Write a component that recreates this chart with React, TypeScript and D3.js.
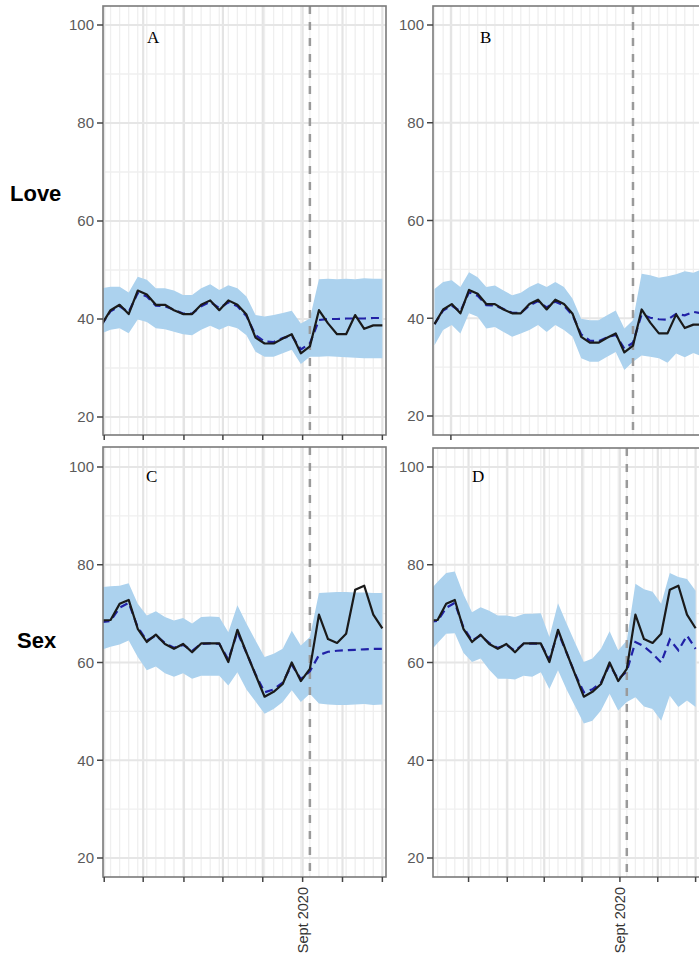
import React from "react";
import * as d3 from "d3";

// observed series (same for both models of a row)
const loveObserved = [38.8, 41.8, 42.9, 41.0, 45.8, 45.0, 42.9, 42.9, 41.8, 41.0, 41.0, 42.9, 43.8, 41.8, 43.8, 42.9, 40.9, 36.2, 35.0, 35.0, 36.0, 36.9, 33.0, 34.4, 41.8, 39.1, 36.9, 36.9, 40.8, 38.0, 38.7, 38.7];
const sexObserved = [68.6, 68.7, 72.0, 72.8, 66.9, 64.2, 65.7, 63.8, 62.8, 63.8, 62.1, 63.9, 63.9, 63.9, 60.1, 66.7, 62.0, 57.5, 53.0, 54.0, 55.6, 60.0, 56.2, 58.7, 69.8, 64.8, 64.0, 65.9, 74.9, 75.7, 69.8, 67.0];

// fitted / counterfactual (blue dashed) and interval per panel
const fitA = [38.8, 41.6, 42.6, 41.4, 45.3, 44.6, 42.7, 42.6, 41.9, 41.1, 41.1, 42.6, 43.5, 42.2, 43.4, 42.6, 40.6, 36.7, 35.4, 35.3, 36.1, 36.6, 33.8, 35.0, 39.8, 40.0, 40.0, 40.1, 40.1, 40.1, 40.2, 40.2];
const lowA = [37.1, 37.8, 38.1, 37.1, 39.9, 39.4, 38.1, 37.9, 37.4, 36.9, 36.7, 37.8, 38.6, 37.8, 38.6, 38.1, 36.7, 33.3, 32.3, 32.3, 33.0, 33.7, 30.8, 32.3, 32.3, 32.4, 32.3, 32.2, 32.1, 32.0, 32.0, 32.0];
const highA = [46.3, 46.6, 46.6, 45.4, 48.6, 48.0, 46.3, 46.3, 45.8, 44.9, 44.9, 46.3, 47.1, 45.9, 46.9, 46.3, 44.6, 40.8, 40.5, 40.8, 41.2, 41.7, 39.1, 40.1, 48.1, 48.2, 48.1, 48.2, 48.1, 48.3, 48.2, 48.2];

const fitB = [38.8, 41.6, 42.6, 41.4, 45.3, 44.6, 42.7, 42.6, 41.9, 41.1, 41.1, 42.6, 43.5, 42.2, 43.4, 42.6, 40.6, 36.7, 35.4, 35.3, 36.1, 36.6, 33.8, 35.0, 40.8, 40.1, 39.8, 39.7, 40.9, 40.6, 41.3, 41.0];
const lowB = [34.5, 37.6, 38.6, 36.9, 41.0, 40.3, 37.9, 38.2, 37.2, 36.2, 36.9, 37.6, 38.6, 37.2, 38.6, 37.6, 36.2, 31.8, 31.1, 31.1, 32.1, 33.1, 29.4, 31.1, 32.4, 32.1, 31.8, 30.9, 32.8, 32.0, 32.9, 32.2];
const highB = [46.0, 47.4, 47.8, 46.4, 49.4, 48.4, 46.4, 46.7, 45.7, 44.7, 45.2, 46.4, 47.2, 46.4, 47.4, 46.4, 44.0, 39.9, 39.6, 39.6, 40.6, 41.6, 37.9, 39.6, 49.1, 48.8, 48.3, 48.6, 49.0, 49.6, 49.3, 50.0];

const fitC = [68.3, 68.5, 71.2, 72.2, 67.2, 64.5, 65.5, 64.0, 63.0, 63.6, 62.4, 63.8, 63.9, 63.8, 60.6, 66.2, 62.0, 57.6, 53.9, 54.5, 55.9, 59.5, 56.6, 58.2, 61.5, 62.2, 62.4, 62.5, 62.6, 62.7, 62.8, 62.8];
const lowC = [62.6, 63.2, 63.7, 64.5, 61.1, 58.4, 59.2, 57.8, 57.1, 57.8, 56.7, 57.3, 57.3, 57.3, 55.3, 58.0, 54.5, 52.0, 49.5, 50.5, 51.9, 54.3, 51.9, 53.6, 51.6, 51.4, 51.3, 51.3, 51.4, 51.5, 51.3, 51.4];
const highC = [75.4, 75.6, 75.7, 76.2, 72.0, 69.6, 70.5, 69.3, 68.6, 69.1, 68.0, 69.3, 69.4, 69.3, 66.2, 71.7, 68.0, 64.5, 61.1, 61.8, 62.8, 66.5, 63.5, 65.2, 74.2, 74.3, 74.4, 74.4, 74.3, 74.3, 74.2, 74.2];

const fitD = [68.3, 68.5, 71.2, 72.2, 67.2, 64.5, 65.5, 64.0, 63.0, 63.6, 62.4, 63.8, 63.9, 63.8, 60.6, 66.2, 62.0, 57.6, 53.9, 54.5, 55.9, 59.5, 56.6, 58.2, 64.2, 63.3, 61.8, 60.0, 64.7, 62.5, 65.5, 62.8];
const lowD = [62.0, 64.0, 65.9, 66.0, 62.0, 60.1, 60.8, 58.5, 56.7, 56.7, 56.5, 57.3, 57.1, 58.0, 54.6, 58.4, 54.5, 51.0, 47.5, 48.1, 50.2, 53.6, 50.2, 51.9, 52.9, 51.0, 50.5, 48.1, 53.2, 50.9, 52.2, 50.9];
const highD = [74.5, 76.5, 78.3, 78.6, 74.0, 70.3, 71.3, 70.6, 69.6, 69.6, 69.3, 69.9, 70.0, 70.1, 65.2, 72.1, 68.0, 64.0, 60.1, 60.8, 62.8, 66.4, 62.5, 64.5, 76.1, 75.0, 74.5, 72.0, 78.3, 77.5, 77.1, 74.7];

const interventionIndex = 23;
const yTicks = [20, 40, 60, 80, 100];
const yMinorTicks = [30, 50, 70, 90];
const xTicks = [0.3, 4.6, 9.1, 13.4, 17.8, 22.2, 26.6, 31.0];
const xTickLabels = ["", "", "", "", "", "Sept 2020", "", ""];
const xTicksB = [1.9];

const W = 699, H = 955;

const panels = [
  { label: "A", obs: loveObserved, fit: fitA, lo: lowA, hi: highA, left: 103, right: 386, top: 6, bottom: 435, x0: 101.5, step: 9.06, yRange: [417, 25], ticks: xTicks, tickLabels: [], labelPos: [147, 43] },
  { label: "B", obs: loveObserved, fit: fitB, lo: lowB, hi: highB, left: 433, right: 702, top: 6, bottom: 435, x0: 434.5, step: 8.63, yRange: [416, 25], ticks: xTicksB, tickLabels: [], labelPos: [480, 43] },
  { label: "C", obs: sexObserved, fit: fitC, lo: lowC, hi: highC, left: 103, right: 386, top: 447, bottom: 877, x0: 101.5, step: 9.06, yRange: [858, 467], ticks: xTicks, tickLabels: xTickLabels, labelPos: [146, 482] },
  { label: "D", obs: sexObserved, fit: fitD, lo: lowD, hi: highD, left: 433, right: 702, top: 448, bottom: 877, x0: 429, step: 8.6, yRange: [858, 467], ticks: xTicks, tickLabels: xTickLabels, labelPos: [472, 482] },
];

const Panel = ({ p }: { p: any }) => {
  const n = p.obs.length;
  const idx = d3.range(n);
  const x = d3.scaleLinear().domain([0, n - 1]).range([p.x0, p.x0 + (n - 1) * p.step]);
  const y = d3.scaleLinear().domain([20, 100]).range(p.yRange);
  const inX = (v: number) => v >= p.left && v <= p.right;
  const inY = (v: number) => v >= p.top && v <= p.bottom;

  const band = d3.area<number>().x(i => x(i)).y0(i => y(p.lo[i])).y1(i => y(p.hi[i]))(idx) || "";
  const fitLine = d3.line<number>().x(i => x(i)).y(i => y(p.fit[i]))(idx) || "";
  const obsLine = d3.line<number>().x(i => x(i)).y(i => y(p.obs[i]))(idx) || "";
  const clipId = "clip-" + p.label;
  const vx = x(interventionIndex);

  return (
    <g>
      <defs>
        <clipPath id={clipId}>
          <rect x={p.left} y={p.top} width={p.right - p.left} height={p.bottom - p.top} />
        </clipPath>
      </defs>
      <rect x={p.left} y={p.top} width={p.right - p.left} height={p.bottom - p.top} fill="#fff" />
      <g clipPath={`url(#${clipId})`}>
        {idx.filter(i => inX(x(i))).map(i => (
          <line key={"mv" + i} x1={x(i)} x2={x(i)} y1={p.top} y2={p.bottom} stroke="#efefef" strokeWidth={1.3} />
        ))}
        {yMinorTicks.map(t => (
          <line key={"mh" + t} x1={p.left} x2={p.right} y1={y(t)} y2={y(t)} stroke="#efefef" strokeWidth={1.3} />
        ))}
        {p.ticks.filter((t: number) => inX(x(t))).map((t: number) => (
          <line key={"gv" + t} x1={x(t)} x2={x(t)} y1={p.top} y2={p.bottom} stroke="#e4e4e4" strokeWidth={2.2} />
        ))}
        {yTicks.map(t => (
          <line key={"gh" + t} x1={p.left} x2={p.right} y1={y(t)} y2={y(t)} stroke="#e6e6e6" strokeWidth={1.8} />
        ))}
        <path d={band} fill="#acd2ee" stroke="none" />
        <line x1={vx} x2={vx} y1={p.top} y2={p.bottom} stroke="#9a9a9a" strokeWidth={2.5} strokeDasharray="8 8" />
        <path d={fitLine} fill="none" stroke="#2121a6" strokeWidth={2.2} strokeDasharray="8 5" />
        <path d={obsLine} fill="none" stroke="#1a1a1a" strokeWidth={2.2} strokeLinejoin="round" />
      </g>
      <rect x={p.left} y={p.top} width={p.right - p.left} height={p.bottom - p.top} fill="none" stroke="#7a7a7a" strokeWidth={1.6} />
      {yTicks.filter(t => inY(y(t))).map(t => (
        <g key={"yt" + t}>
          <line x1={p.left - 6} x2={p.left} y1={y(t)} y2={y(t)} stroke="#444" strokeWidth={1.5} />
          <text x={p.left - 9} y={y(t)} dy="0.36em" textAnchor="end" fontSize={15} fill="#5a5a5a">{t}</text>
        </g>
      ))}
      {p.ticks.filter((t: number) => inX(x(t))).map((t: number) => (
        <line key={"xt" + t} x1={x(t)} x2={x(t)} y1={p.bottom} y2={p.bottom + 5} stroke="#444" strokeWidth={1.5} />
      ))}
      {p.ticks.map((t: number, k: number) => {
        const lab = p.tickLabels[k];
        if (!lab || !inX(x(t))) return null;
        return (
          <text key={"xl" + t} transform={`translate(${x(t) + 5},${p.bottom + 10}) rotate(-90)`} textAnchor="end" fontSize={14.5} fill="#333">{lab}</text>
        );
      })}
      <text x={p.labelPos[0]} y={p.labelPos[1]} fontFamily="'Liberation Serif', 'Times New Roman', serif" fontSize={17} fill="#000">{p.label}</text>
    </g>
  );
};

const App = () => {
  return (
    <svg width={W} height={H} style={{ position: "absolute", left: 0, top: 0 }} fontFamily="'Liberation Sans', Arial, sans-serif">
      <rect width={W} height={H} fill="#fff" />
      {panels.map(p => <Panel key={p.label} p={p} />)}
      <text x={10} y={201} fontSize={22} fontWeight="bold" fill="#000">Love</text>
      <text x={17} y={648} fontSize={22} fontWeight="bold" fill="#000">Sex</text>
    </svg>
  );
};

export default App;
